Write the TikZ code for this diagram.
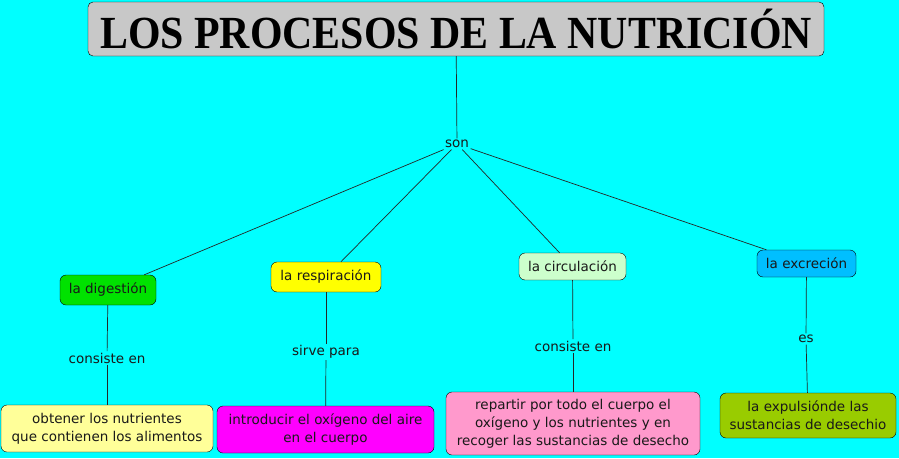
\documentclass[tikz,border=0pt]{standalone}
\usepackage{fontspec}
\setmainfont{DejaVu Sans}
\newfontfamily\titlefont{Liberation Serif}
\usetikzlibrary{positioning}
\definecolor{bgcyan}{RGB}{0, 255, 255}
\definecolor{titlegray}{RGB}{200, 200, 200}
\definecolor{diggreen}{RGB}{0, 226, 0}
\definecolor{respyellow}{RGB}{255, 255, 0}
\definecolor{circgreen}{RGB}{204, 255, 204}
\definecolor{excrblue}{RGB}{0, 191, 255}
\definecolor{obtyellow}{RGB}{255, 255, 153}
\definecolor{intromagenta}{RGB}{255, 0, 255}
\definecolor{reppink}{RGB}{255, 153, 204}
\definecolor{expulgreen}{RGB}{153, 204, 0}
\definecolor{txtdark}{RGB}{25, 25, 25}

\begin{document}
\begin{tikzpicture}[
        x=1pt, y=-1pt,
        concept/.style={rectangle, draw=black, thin, rounded corners=6pt, align=center, inner sep=2pt, text=txtdark, font=\fontsize{13.5}{18}\selectfont},
        titlebox/.style={concept, fill=titlegray, rounded corners=5pt, text=black, font=\titlefont\bfseries\fontsize{46}{46}\selectfont},
        linker/.style={fill=bgcyan, inner sep=1.5pt, text=txtdark, font=\fontsize{13.5}{15}\selectfont},
        link/.style={draw=black!85, line width=0.7pt}
    ]
        % Background
        \fill[bgcyan] (0,0) rectangle (899,458);

        % Title
        \node[titlebox, minimum width=736, minimum height=54] (title) at (456,29) {\scalebox{0.91}[1]{LOS PROCESOS DE LA NUTRICIÓN}};
        \node[linker] (son) at (457,144) {son};

        % Processes
        \node[concept, fill=diggreen, minimum width=96, minimum height=30] (dig) at (108,290) {la digestión};
        \node[concept, fill=respyellow, minimum width=110, minimum height=30] (resp) at (326,277) {la respiración};
        \node[concept, fill=circgreen, minimum width=107, minimum height=27] (circ) at (572.5,266.5) {la circulación};
        \node[concept, fill=excrblue, minimum width=99, minimum height=27] (excr) at (806.5,263.5) {la excreción};

        % Linking words
        \node[linker] (consdig) at (107,358) {consiste en};
        \node[linker] (sirve) at (326,352) {sirve para};
        \node[linker] (conscirc) at (573,346) {consiste en};
        \node[linker] (es) at (806,339) {es};

        % Descriptions
        \node[concept, fill=obtyellow, minimum width=212, minimum height=47] (obt) at (107,428.5) {obtener los nutrientes\\que contienen los alimentos};
        \node[concept, fill=intromagenta, minimum width=217, minimum height=47] (intro) at (325.5,429.5) {introducir el oxígeno del aire\\en el cuerpo};
        \node[concept, fill=reppink, minimum width=254, minimum height=63] (rep) at (573,423.5) {repartir por todo el cuerpo el\\oxígeno y los nutrientes y en\\recoger las sustancias de desecho};
        \node[concept, fill=expulgreen, minimum width=176, minimum height=45] (expul) at (808,415.5) {la expulsiónde las\\sustancias de desechio};

        % Connections
        \draw[link] (title) -- (son);
        \draw[link] (son) -- (dig);
        \draw[link] (son) -- (resp);
        \draw[link] (son) -- (circ);
        \draw[link] (son) -- (excr);

        \draw[link] (dig) -- (consdig);
        \draw[link] (consdig) -- (obt);
        \draw[link] (resp) -- (sirve);
        \draw[link] (sirve) -- (intro);
        \draw[link] (circ) -- (conscirc);
        \draw[link] (conscirc) -- (rep);
        \draw[link] (excr) -- (es);
        \draw[link] (es) -- (expul);

    \end{tikzpicture}
\end{document}
